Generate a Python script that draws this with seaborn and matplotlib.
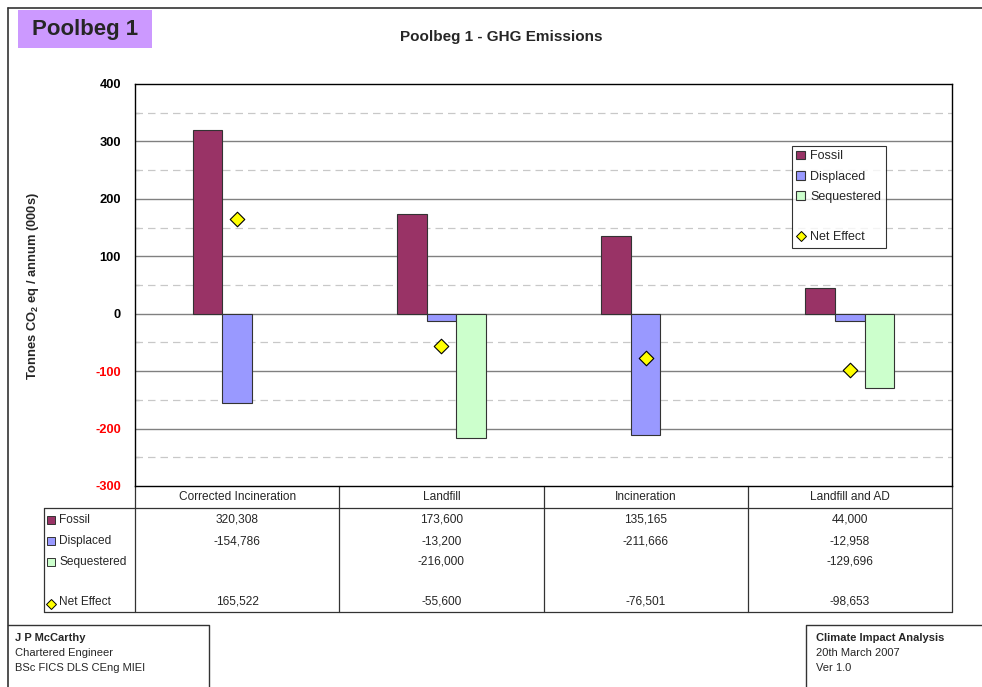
import numpy as np
import pandas as pd
import seaborn as sns
from matplotlib import pyplot as plt
from matplotlib.patches import Patch, Rectangle
from matplotlib.lines import Line2D
from matplotlib.ticker import MultipleLocator

# chart data (tonnes CO2 eq / annum)
categories = ['Corrected Incineration', 'Landfill', 'Incineration', 'Landfill and AD']
fossil = [320308, 173600, 135165, 44000]
displaced = [-154786, -13200, -211666, -12958]
sequestered = [np.nan, -216000, np.nan, -129696]
net_effect = [165522, -55600, -76501, -98653]
series_names = ['Fossil', 'Displaced', 'Sequestered']
series_colors = ['#993366', '#9999FF', '#CCFFCC']
net_color = '#FFFF00'
y_ticks = [-300, -200, -100, 0, 100, 200, 300, 400]

W, H = 982, 687


def fx(px):
    return px / W


def fy(py):
    return 1 - py / H


sns.set_theme(style="white")
plt.rcParams['font.family'] = ['Liberation Sans', 'DejaVu Sans']
plt.rcParams['axes.unicode_minus'] = False
plt.rcParams['mathtext.fontset'] = 'custom'
plt.rcParams['mathtext.rm'] = 'Liberation Sans'
plt.rcParams['mathtext.bf'] = 'Liberation Sans:bold'

fig = plt.figure(figsize=(W / 100, H / 100), dpi=100)
ax = fig.add_axes([fx(135), fy(486), fx(952) - fx(135), fy(84) - fy(486)])

# long form data for seaborn
df = pd.DataFrame({
    'category': np.repeat(categories, 3),
    'series': series_names * len(categories),
    'value': np.array(list(zip(fossil, displaced, sequestered))).ravel() / 1000,
})

sns.barplot(data=df, x='category', y='value', hue='series',
            order=categories, hue_order=series_names,
            palette=series_colors, width=0.435, saturation=1,
            edgecolor='#333333', linewidth=0.8, errorbar=None,
            legend=False, ax=ax, zorder=3)

pos = np.arange(len(categories))
sns.scatterplot(x=pos, y=np.array(net_effect) / 1000, marker='D', s=55,
                color=net_color, edgecolor='black', linewidth=0.8,
                ax=ax, zorder=4, legend=False)

ax.set_xlim(-0.5, len(categories) - 0.5)
ax.set_ylim(-300, 400)
ax.set_yticks(y_ticks)
ax.yaxis.set_minor_locator(MultipleLocator(50))
ax.set_xticks([])
ax.set_xlabel('')
ax.set_ylabel('')

# grid: solid at 100s, dashed at 50s
for v in y_ticks[1:-1]:
    ax.axhline(v, color='#808080', lw=1.0, zorder=1)
for v in np.arange(-250, 400, 100):
    ax.axhline(v, color='#C8C8C8', lw=0.9, ls=(0, (6, 4)), zorder=1)

for s in ax.spines.values():
    s.set_color('black')
    s.set_linewidth(1.0)

ax.tick_params(axis='y', which='major', direction='inout', length=8,
               width=1, color='black', labelsize=9.3, pad=6)
ax.tick_params(axis='y', which='minor', direction='in', length=3,
               width=0.8, color='black', left=True)
for lab, v in zip(ax.get_yticklabels(), y_ticks):
    lab.set_fontweight('bold')
    lab.set_color('red' if v < 0 else 'black')

# legend inside plot
handles = [Patch(facecolor=c, edgecolor='#333333', lw=0.8) for c in series_colors]
handles.append(Line2D([], [], ls='none'))
handles.append(Line2D([], [], ls='none', marker='D', markersize=5,
                      markerfacecolor=net_color, markeredgecolor='black', markeredgewidth=0.7))
labels = series_names + [' ', 'Net Effect']
leg = ax.legend(handles, labels, loc='upper left',
                bbox_to_anchor=((792 - 135) / 817, (486 - 146) / 402),
                fontsize=9, frameon=True, fancybox=False, borderaxespad=0,
                handlelength=0.7, handleheight=0.7, handletextpad=0.4,
                labelspacing=0.66, borderpad=0.35)
leg.get_frame().set_edgecolor('black')
leg.get_frame().set_linewidth(0.8)
leg.set_zorder(5)

# data table below the axes
tr = ax.get_xaxis_transform()
ax_h = 486 - 84
px_x = len(categories) / 817  # data units per pixel along x


def ay(py):
    return (486 - py) / ax_h


line_kw = dict(color='#333333', lw=0.9, clip_on=False)
left_x = -0.5 + (44 - 135) * px_x
right_x = len(categories) - 0.5
for b in np.arange(-0.5, len(categories), 1.0):
    ax.plot([b, b], [0, ay(612)], transform=tr, **line_kw)
ax.plot([left_x, right_x], [ay(508), ay(508)], transform=tr, **line_kw)
ax.plot([left_x, right_x], [ay(612), ay(612)], transform=tr, **line_kw)
ax.plot([left_x, left_x], [ay(508), ay(612)], transform=tr, **line_kw)

for i, cat in enumerate(categories):
    ax.text(i, ay(497), cat, transform=tr, ha='center', va='center', fontsize=8.6)

row_y = [520, 541, 562, 602]
rows = [fossil, displaced, sequestered, net_effect]
for vals, py in zip(rows, row_y):
    for i, v in enumerate(vals):
        if not np.isnan(v):
            ax.text(i, ay(py), f'{v:,.0f}', transform=tr, ha='center',
                    va='center', fontsize=8.6)

# row keys
key_x = left_x + 3 * px_x
for name, c, py in zip(series_names, series_colors, row_y[:3]):
    ax.add_patch(Rectangle((key_x, ay(py + 4)), 8 * px_x, 8 / ax_h,
                           transform=tr, facecolor=c, edgecolor='#333333',
                           lw=0.7, clip_on=False))
    ax.text(key_x + 12 * px_x, ay(py), name, transform=tr, ha='left',
            va='center', fontsize=8.6)
ax.plot([key_x + 4 * px_x], [ay(row_y[3] + 2)], transform=tr, marker='D',
        markersize=5, markerfacecolor=net_color, markeredgecolor='black',
        markeredgewidth=0.7, ls='none', clip_on=False)
ax.text(key_x + 12 * px_x, ay(row_y[3]), 'Net Effect', transform=tr, ha='left',
        va='center', fontsize=8.6)

# page decorations
fig.add_artist(Line2D([fx(8), fx(8)], [fy(8), 0], color='#333333', lw=1.2))
fig.add_artist(Line2D([fx(8), 1], [fy(8), fy(8)], color='#333333', lw=1.2))
fig.add_artist(Rectangle((fx(18), fy(48)), fx(152) - fx(18), fy(10) - fy(48),
                         facecolor='#CC99FF', edgecolor='none'))
fig.text(fx(85), fy(30), 'Poolbeg 1', ha='center', va='center',
         fontsize=16, fontweight='bold')
fig.text(fx(501), fy(37), 'Poolbeg 1 - GHG Emissions', ha='center',
         va='center', fontsize=11, fontweight='bold')
fig.text(fx(33), fy(286), r'Tonnes CO$_{\mathbf{2}}$ eq / annum (000s)',
         rotation=90, ha='center', va='center', fontsize=9.3, fontweight='bold')

# footer boxes
fig.add_artist(Line2D([fx(8), fx(209), fx(209)], [fy(625), fy(625), 0],
                      color='#333333', lw=1.0))
fig.add_artist(Line2D([fx(806), fx(806), 1], [0, fy(625), fy(625)],
                      color='#333333', lw=1.0))
narrow = ['Liberation Sans Narrow', 'Liberation Sans', 'DejaVu Sans']
fig.text(fx(15), fy(638), 'J P McCarthy', fontsize=8, fontweight='bold',
         family=narrow, va='center')
fig.text(fx(15), fy(653), 'Chartered Engineer', fontsize=8, family=narrow, va='center')
fig.text(fx(15), fy(668), 'BSc FICS DLS CEng MIEI', fontsize=8, family=narrow, va='center')
fig.text(fx(816), fy(638), 'Climate Impact Analysis', fontsize=8,
         fontweight='bold', family=narrow, va='center')
fig.text(fx(816), fy(653), '20th March 2007', fontsize=8, family=narrow, va='center')
fig.text(fx(816), fy(668), 'Ver 1.0', fontsize=8, family=narrow, va='center')

fig.savefig('out.png', dpi=100)
